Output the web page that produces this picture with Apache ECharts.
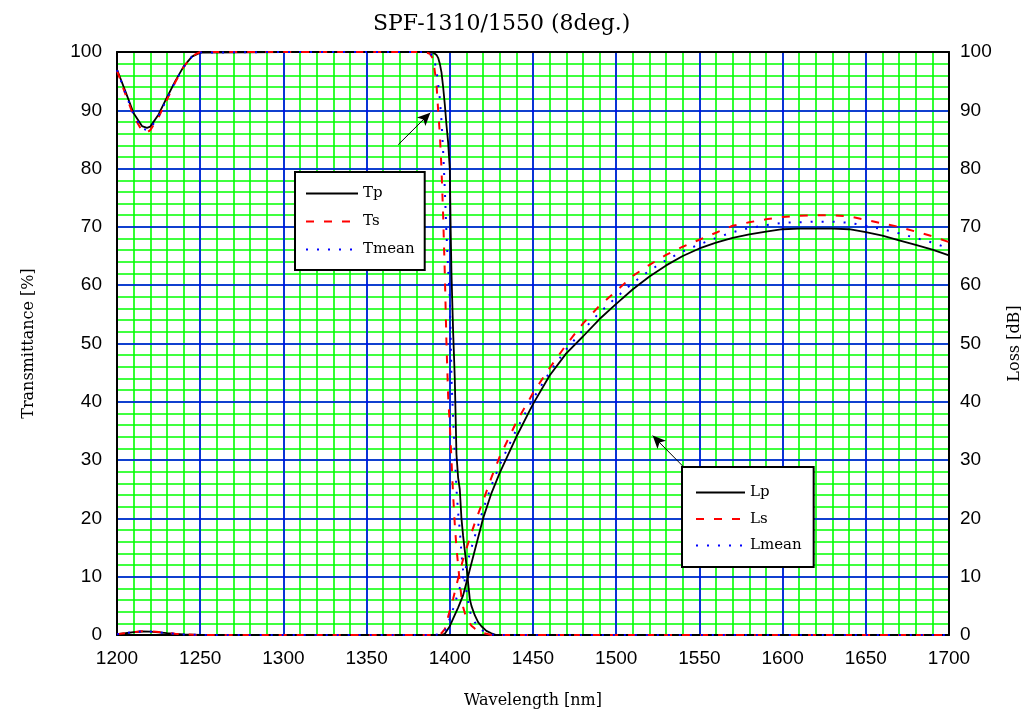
<!DOCTYPE html>
<html>
<head>
<meta charset="utf-8">
<script src="https://cdn.jsdelivr.net/npm/echarts@6/dist/echarts.min.js"></script>
<style>
  html, body { margin: 0; padding: 0; background: #fff; }
  #main { width: 1032px; height: 714px; }
</style>
</head>
<body>
<div id="main"></div>
<script>
// wavelength grid for the transmittance curves (nm)
const wlT = [1200,1205,1210,1215,1218,1220,1225,1230,1235,1240,1245,1250,1300,1350,1385,1388,1390,1392,1393,1394,1395,1396,1397,1398,1399,1400,1400.5,1401,1402,1403,1404,1405,1406,1407,1408,1409,1410,1411,1412,1413,1415,1417,1419,1422,1425,1428,1450,1500,1550,1600,1650,1700];
const tp = [97,93.3,89.5,87.3,87,87.2,89.3,92.2,95,97.5,99.2,99.9,100,100,100,100,99.9,99.5,99,98,96.5,94,91,87.5,84.5,80,70,62,52,44,31,27,25,20,17,14.5,12,9,6.2,5,3.4,2.2,1.5,0.7,0.3,0,0,0,0,0,0,0];
const ts = [96.8,92.8,89,86.5,86.2,86.6,88.8,91.8,94.8,97.4,99.3,100,100,100,100,99.7,98.8,94.5,90,86,80,72,62,50,41,36,33,30,24,19,15,12,9,6.5,4.8,3.8,3,2.5,2,1.6,1.1,0.7,0.4,0.2,0,0,0,0,0,0,0,0];
const tmean = [96.9,93,89.2,86.9,86.6,86.9,89,92,94.9,97.4,99.2,99.9,100,100,100,99.8,99.3,97,94.5,92,88.2,83,76.5,68.8,62.8,58,51.5,44,37,31,25,21,18,14,11,9.2,7.5,5.8,4.1,3.3,2.2,1.5,0.9,0.4,0.1,0,0,0,0,0,0,0];

// wavelength grid for the loss curves (nm)
const wlL = [1200,1205,1210,1215,1220,1225,1230,1235,1240,1250,1300,1350,1390,1395,1397,1400,1402,1405,1408,1410,1412,1415,1420,1425,1430,1440,1450,1460,1470,1480,1490,1500,1510,1520,1530,1540,1550,1560,1570,1580,1590,1600,1610,1620,1630,1640,1650,1660,1670,1680,1690,1700];
const lp = [0.13,0.3,0.48,0.6,0.58,0.45,0.32,0.2,0.1,0,0,0,0,0,0.2,1.5,2.8,4.7,6.8,9,11.2,14.5,20,24.3,27.8,34,39.6,44.5,48.3,51.2,54.2,56.8,59.3,61.5,63.4,65,66.3,67.3,68.1,68.7,69.2,69.6,69.7,69.7,69.7,69.6,69.1,68.5,67.7,66.9,66.1,65.1];
const ls = [0.15,0.32,0.5,0.65,0.62,0.5,0.35,0.22,0.1,0,0,0,0,0.3,1,4.2,6.2,9.7,13,14.8,16.6,19.2,23,27,30.6,36.5,41.5,45.8,49.8,53.4,56.5,59,61.6,63.5,65.2,66.6,67.8,69,70.2,70.8,71.3,71.7,71.9,72,72,71.8,71.2,70.6,70,69.2,68.4,67.4];
const lmean = [0.14,0.31,0.49,0.62,0.6,0.47,0.33,0.21,0.1,0,0,0,0,0.15,0.6,2.8,4.5,7.2,9.9,11.9,13.9,16.9,21.5,25.6,29.2,35.2,40.5,45.1,49,52.3,55.3,57.9,60.4,62.5,64.3,65.8,67,68.1,69.1,69.8,70.3,70.7,70.8,70.9,70.9,70.7,70.2,69.6,68.9,68.1,67.3,66.3];

// annotation arrows, [start, end] in data coordinates
const arrowT = [[1369, 84.1], [1388.3, 89.6]];
const arrowL = [[1540.6, 28.8], [1521.9, 34.2]];

const serif = 'DejaVu Serif';
const sans = 'Liberation Sans';

const chart = echarts.init(document.getElementById('main'));

function pairs(xs, ys) {
  return xs.map(function (x, i) { return [x, ys[i]]; });
}

function plain(v) {
  return String(v);
}

function arrow(a) {
  return {
    silent: true,
    symbol: ['none', 'arrow'],
    symbolSize: [9, 13],
    lineStyle: { color: '#000', type: 'solid', width: 1 },
    label: { show: false },
    emphasis: { disabled: true },
    data: [[{ coord: a[0] }, { coord: a[1] }]]
  };
}

const legendBase = {
  orient: 'vertical',
  selectedMode: false,
  backgroundColor: '#fff',
  borderColor: '#000',
  borderWidth: 2,
  itemHeight: 14,
  itemStyle: { opacity: 0 },
  textStyle: { fontFamily: serif, fontSize: 15, color: '#000' }
};

const option = {
  animation: false,
  title: {
    text: 'SPF-1310/1550 (8deg.)',
    left: 368,
    top: 8,
    textStyle: { fontFamily: serif, fontSize: 22, fontWeight: 'normal', color: '#000' }
  },
  legend: [
    Object.assign({}, legendBase, {
      data: ['Tp', 'Ts', 'Tmean'],
      left: 295, top: 172,
      itemWidth: 52, itemGap: 13,
      padding: [14, 10, 13, 10],
      textStyle: Object.assign({}, legendBase.textStyle, { width: 57 })
    }),
    Object.assign({}, legendBase, {
      data: ['Lp', 'Ls', 'Lmean'],
      left: 682, top: 467,
      itemWidth: 49, itemGap: 11.5,
      padding: [18, 12, 14, 13],
      textStyle: Object.assign({}, legendBase.textStyle, { width: 55 })
    })
  ],
  grid: { left: 117, right: 83, top: 52, bottom: 79 },
  xAxis: [
    { // minor green grid
      type: 'value', min: 1200, max: 1700, interval: 10, position: 'bottom', z: 0,
      axisLine: { show: false }, axisTick: { show: false }, axisLabel: { show: false },
      splitLine: { show: true, lineStyle: { color: '#00ff00', width: 1.6 } }
    },
    { // major blue grid + labels
      type: 'value', min: 1200, max: 1700, interval: 50, position: 'bottom', z: 1,
      name: 'Wavelength [nm]', nameLocation: 'middle', nameGap: 58,
      nameTextStyle: { fontFamily: serif, fontSize: 16, color: '#000' },
      axisLine: { show: true, lineStyle: { color: '#000', width: 2 } },
      axisTick: { show: false },
      axisLabel: { fontFamily: sans, fontSize: 19, color: '#000', margin: 14, formatter: plain },
      splitLine: { show: true, lineStyle: { color: '#0000ff', width: 1.6 } }
    },
    { // top frame
      type: 'value', min: 1200, max: 1700, position: 'top', z: 1,
      axisLine: { show: true, onZero: false, lineStyle: { color: '#000', width: 2 } },
      axisTick: { show: false }, axisLabel: { show: false }, splitLine: { show: false }
    }
  ],
  yAxis: [
    {
      type: 'value', min: 0, max: 100, interval: 2, position: 'left', z: 0,
      axisLine: { show: false }, axisTick: { show: false }, axisLabel: { show: false },
      splitLine: { show: true, lineStyle: { color: '#00ff00', width: 1.6 } }
    },
    {
      type: 'value', min: 0, max: 100, interval: 10, position: 'left', z: 1,
      name: 'Transmittance [%]', nameLocation: 'middle', nameGap: 80, nameRotate: 90,
      nameTextStyle: { fontFamily: serif, fontSize: 16, color: '#000' },
      axisLine: { show: true, onZero: false, lineStyle: { color: '#000', width: 2 } },
      axisTick: { show: false },
      axisLabel: { fontFamily: sans, fontSize: 19, color: '#000', margin: 15, formatter: plain },
      splitLine: { show: true, lineStyle: { color: '#0000ff', width: 1.6 } }
    },
    {
      type: 'value', min: 0, max: 100, interval: 10, position: 'right', z: 1,
      name: 'Loss [dB]', nameLocation: 'middle', nameGap: 58, nameRotate: 90,
      nameTextStyle: { fontFamily: serif, fontSize: 16, color: '#000' },
      axisLine: { show: true, onZero: false, lineStyle: { color: '#000', width: 2 } },
      axisTick: { show: false },
      axisLabel: { fontFamily: sans, fontSize: 19, color: '#000', margin: 11, formatter: plain },
      splitLine: { show: false }
    }
  ],
  series: [
    {
      name: 'Tp', type: 'line', xAxisIndex: 1, yAxisIndex: 1, symbol: 'none', clip: false,
      lineStyle: { color: '#000', width: 1.8 }, itemStyle: { color: '#000' },
      data: pairs(wlT, tp), markLine: arrow(arrowT)
    },
    {
      name: 'Ts', type: 'line', xAxisIndex: 1, yAxisIndex: 1, symbol: 'none', clip: false,
      lineStyle: { color: '#ff0000', width: 2, type: [8, 10] }, itemStyle: { color: '#ff0000' },
      data: pairs(wlT, ts)
    },
    {
      name: 'Tmean', type: 'line', xAxisIndex: 1, yAxisIndex: 1, symbol: 'none', clip: false,
      lineStyle: { color: '#0000ff', width: 2, type: [2, 9] }, itemStyle: { color: '#0000ff' },
      data: pairs(wlT, tmean)
    },
    {
      name: 'Lp', type: 'line', xAxisIndex: 1, yAxisIndex: 2, symbol: 'none', clip: false,
      lineStyle: { color: '#000', width: 1.8 }, itemStyle: { color: '#000' },
      data: pairs(wlL, lp), markLine: arrow(arrowL)
    },
    {
      name: 'Ls', type: 'line', xAxisIndex: 1, yAxisIndex: 2, symbol: 'none', clip: false,
      lineStyle: { color: '#ff0000', width: 2, type: [8, 10] }, itemStyle: { color: '#ff0000' },
      data: pairs(wlL, ls)
    },
    {
      name: 'Lmean', type: 'line', xAxisIndex: 1, yAxisIndex: 2, symbol: 'none', clip: false,
      lineStyle: { color: '#0000ff', width: 2, type: [2, 9] }, itemStyle: { color: '#0000ff' },
      data: pairs(wlL, lmean)
    }
  ]
};

chart.setOption(option);
</script>
</body>
</html>
